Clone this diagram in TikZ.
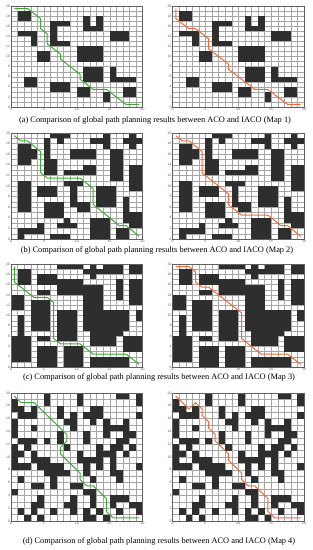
\documentclass[tikz,border=0pt]{standalone}
\usepackage{fontspec}
\setmainfont{Liberation Serif}
\setsansfont{Liberation Sans}
\usepackage{tikz}
\usepackage{xcolor}
\definecolor{acoGreen}{HTML}{3DAA35}
\definecolor{iacoOrange}{HTML}{F06A35}
\definecolor{obstGrey}{HTML}{2E2E2E}

% obstacle blocks x1/y1/x2/y2 (cell units)
\def\obstA{1/17/3/19, 1/14/4/15, 3/12/4/14, 4/9/6/11, 6/12/7/17, 7/16/9/17, 7/12/9/13,
  11/15/12/18, 13/15/14/18, 12/15/13/16, 15/13/18/15, 10/9/14/12, 11/5/14/8,
  15/5/19/6, 15/6/16/8, 2/4/4/6, 6/3/9/5, 10/2/12/4, 14/1/15/3, 17/2/19/4}
\def\obstB{6/19/9/20, 7/18/8/19, 5/15/6/19, 5/12/7/15, 1/14/3/18, 3/15/4/17,
  12/18/15/19, 14/17/15/20, 17/18/20/19, 18/17/19/20, 9/15/13/17, 15/11/17/17,
  8/12/13/13, 11/13/13/14, 18/9/20/14, 1/5/3/11, 4/8/7/10, 8/10/11/11, 9/6/10/10,
  10/5/12/7, 13/6/16/10, 5/4/8/7, 17/3/18/8, 18/2/20/5, 12/0/15/4, 16/0/18/2,
  7/2/10/3, 8/3/9/4, 6/0/9/1, 1/0/2/2, 2/1/5/2, 4/2/5/3}
\def\obstC{1/16/3/19, 4/16/7/18, 7/19/11/20, 7/14/11/17, 12/19/13/20, 11/18/14/19,
  12/17/13/18, 14/18/17/20, 18/18/20/20, 18/12/20/17, 16/13/17/17, 4/14/6/15, 0/11/2/14,
  11/7/14/16, 14/6/17/11, 17/7/18/11, 19/9/20/11, 1/6/2/10, 3/7/6/13, 4/5/6/6,
  7/5/10/11, 0/1/3/6, 4/0/7/4, 8/0/11/4, 12/4/16/7, 17/3/20/6, 12/0/18/2}
% map 4: row/{columns}
\def\obstD{19/{5,10,16,17,19}, 18/{0,5,10,19}, 17/{0,1,3,7,12,13},
  16/{1,2,3,7,9,11,12,13,19}, 15/{0,8,9,12,14,17}, 14/{0,3,9,14,15,16,17},
  13/{0,7,11,14,17,18}, 12/{1,2,3,5,7,11,16,17}, 11/{0,2,8,13,15,16,18},
  10/{0,1,3,10,13,14,15,17}, 9/{0,3,4,5,10,11,12,13,15},
  8/{0,1,2,4,5,6,7,11,13,15,19}, 7/{5,6,7,8,11,15,16}, 6/{1,6,12,16},
  5/{3,4,6,9,10}, 4/{0,11,12}, 3/{4,9,12,15,16,17}, 2/{3,4,8,9,12,15,18,19},
  1/{1,3,6,9,11,13,16,19}, 0/{2,4,11,12,14}}

\newcommand{\mapgrid}{%
  \foreach \i in {0,...,20} {\draw[gridline] (\i,0) -- (\i,20); \draw[gridline] (0,\i) -- (20,\i);}}
\newcommand{\mapaxes}[1]{%
  \draw[frameline] (0,0) rectangle (20,20);
  \foreach \t in {0,2,...,20} \node[ticklabel,anchor=east] (#1y\t) at (0,\t) {\t};
  \foreach \t in {0,5,...,20} \node[ticklabel,anchor=north] (#1x\t) at (\t,0) {\t};}

\begin{document}
\begin{tikzpicture}[x=1bp,y=1bp,
  gridline/.style={draw=gray!70,line width=0.25bp},
  obst/.style={fill=obstGrey},
  frameline/.style={draw=gray!75!black,line width=0.3bp},
  ticklabel/.style={font=\sffamily\fontsize{3.4}{4}\selectfont,text=gray!65!black,inner sep=0.9bp},
  aco/.style={draw=acoGreen,line width=1bp,line join=round},
  iaco/.style={draw=iacoOrange,line width=1bp,line join=round},
  caption/.style={font=\fontsize{8.4}{10}\selectfont,inner sep=0pt}]
  \useasboundingbox (0,0) rectangle (312,550);

  % Map 1
  \begin{scope}[shift={(11,443)},x=6.575bp,y=5.05bp]
    \mapgrid
    \foreach \a/\b/\c/\d in \obstA \fill[obst] (\a,\b) rectangle (\c,\d);
    \mapaxes{ma}
    \draw[aco] plot coordinates {(0.5,19.5) (2.5,19.5) (4.5,17.5) (4.5,15.5) (5.5,14.5) (5.5,12.5) (7.5,10.5) (7.5,9.5) (10.5,6.5) (10.5,5.5) (12.5,3.5) (14.5,3.5) (17.5,0.5) (19.5,0.5)};
  \end{scope}
  \begin{scope}[shift={(172.5,443)},x=6.575bp,y=5.05bp]
    \mapgrid
    \foreach \a/\b/\c/\d in \obstA \fill[obst] (\a,\b) rectangle (\c,\d);
    \mapaxes{mb}
    \draw[iaco] plot coordinates {(0.5,19.5) (0.5,17.5) (2.5,15.5) (3.5,15.5) (5.5,13.5) (5.5,11.5) (8.5,8.5) (8.5,7.5) (12.5,3.5) (14.5,3.5) (17.5,0.5) (19.5,0.5)};
  \end{scope}
  \node[caption] (capa) at (155,429.5) {(a) Comparison of global path planning results between ACO and IACO (Map 1)};

  % Map 2
  \begin{scope}[shift={(11,311)},x=6.575bp,y=5.3bp]
    \mapgrid
    \foreach \a/\b/\c/\d in \obstB \fill[obst] (\a,\b) rectangle (\c,\d);
    \mapaxes{mc}
    \draw[aco] plot coordinates {(0.5,19.5) (1.5,18.5) (2.5,18.5) (4.5,16.5) (4.5,12.5) (5.5,11.5) (10.5,11.5) (12.5,9.5) (12.5,6.5) (16.5,2.5) (17.5,2.5) (19.5,0.5)};
  \end{scope}
  \begin{scope}[shift={(172.5,311)},x=6.575bp,y=5.3bp]
    \mapgrid
    \foreach \a/\b/\c/\d in \obstB \fill[obst] (\a,\b) rectangle (\c,\d);
    \mapaxes{md}
    \draw[iaco] plot coordinates {(0.5,19.5) (1.5,18.5) (2.5,18.5) (4.5,16.5) (4.5,12.5) (8.5,8.5) (8.5,6.5) (10.5,4.5) (14.5,4.5) (16.5,2.5) (17.5,2.5) (19.5,0.5)};
  \end{scope}
  \node[caption] (capb) at (157,300) {(b) Comparison of global path planning results between ACO and IACO (Map 2)};

  % Map 3
  \begin{scope}[shift={(11,183)},x=6.575bp,y=5.15bp]
    \mapgrid
    \foreach \a/\b/\c/\d in \obstC \fill[obst] (\a,\b) rectangle (\c,\d);
    \mapaxes{me}
    \draw[aco] plot coordinates {(0.5,19.5) (0.5,16.5) (3.5,13.5) (5.5,13.5) (6.5,12.5) (6.5,5.5) (7.5,4.5) (10.5,4.5) (12.5,2.5) (17.5,2.5) (19.5,0.5)};
  \end{scope}
  \begin{scope}[shift={(172.5,183)},x=6.575bp,y=5.15bp]
    \mapgrid
    \foreach \a/\b/\c/\d in \obstC \fill[obst] (\a,\b) rectangle (\c,\d);
    \mapaxes{mf}
    \draw[iaco] plot coordinates {(0.5,19.5) (2.5,19.5) (3.5,18.5) (3.5,16.5) (4.5,15.5) (5.5,15.5) (10.5,10.5) (10.5,5.5) (13.5,2.5) (17.5,2.5) (19.5,0.5)};
  \end{scope}
  \node[caption] (capc) at (159,173) {(c) Comparison of global path planning results between ACO and IACO (Map 3)};

  % Map 4
  \begin{scope}[shift={(11,29)},x=6.575bp,y=6.4bp]
    \mapgrid
    \foreach \r/\cs in \obstD {\foreach \c in \cs {\fill[obst] (\c,\r) rectangle ++(1,1);}}
    \mapaxes{mg}
    \draw[aco] plot coordinates {(0.5,19.5) (1.5,18.5) (3.5,18.5) (7.5,14.5) (8.5,13.5) (8.5,12.5) (7.5,11.5) (7.5,10.5) (10.5,7.5) (10.5,6.5) (11.5,5.5) (12.5,5.5) (14.5,3.5) (14.5,1.5) (15.5,0.5) (19.5,0.5)};
  \end{scope}
  \begin{scope}[shift={(172.5,29)},x=6.575bp,y=6.4bp]
    \mapgrid
    \foreach \r/\cs in \obstD {\foreach \c in \cs {\fill[obst] (\c,\r) rectangle ++(1,1);}}
    \mapaxes{mh}
    \draw[iaco] plot coordinates {(0.5,19.5) (2.5,17.5) (3.5,18.5) (4.5,17.5) (4.5,16.5) (5.5,15.5) (5.5,14.5) (6.5,13.5) (6.5,12.5) (8.5,10.5) (8.5,9.5) (10.5,7.5) (10.5,6.5) (11.5,5.5) (12.5,5.5) (14.5,3.5) (14.5,1.5) (15.5,0.5) (19.5,0.5)};
  \end{scope}
  \node[caption] (capd) at (159,8.3) {(d) Comparison of global path planning results between ACO and IACO (Map 4)};
\end{tikzpicture}
\end{document}
